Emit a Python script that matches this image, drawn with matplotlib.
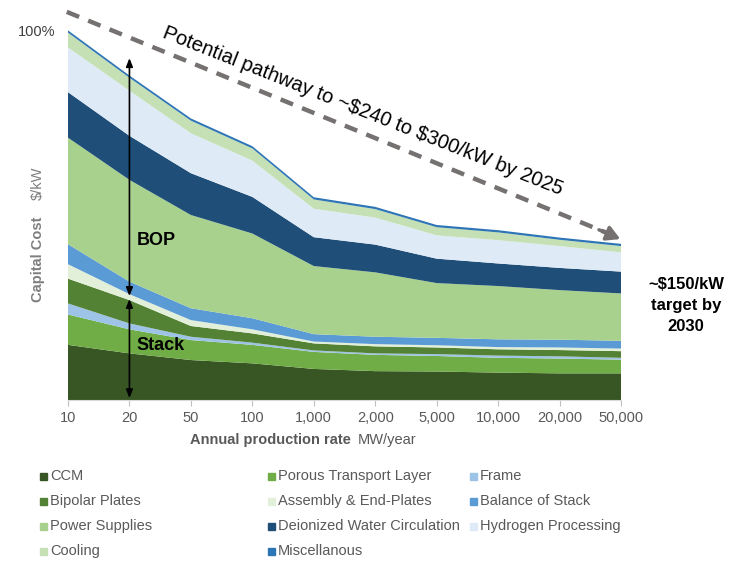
import matplotlib
matplotlib.use("Agg")
import matplotlib.pyplot as plt
from matplotlib.patches import Rectangle

plt.rcParams['font.family'] = ['Liberation Sans', 'DejaVu Sans']

# production rates (MW/year) shown as evenly spaced categories
rates = ["10", "20", "50", "100", "1,000", "2,000", "5,000", "10,000", "20,000", "50,000"]

# share of the 10 MW/year capital cost (%), one list per cost component
ccm = [14.9, 12.6, 10.8, 9.9, 8.4, 7.8, 7.7, 7.4, 7.2, 7.2]
ptl = [8.2, 6.5, 5.4, 5.0, 4.6, 4.4, 4.2, 4.0, 4.0, 3.7]
frame = [3.0, 1.6, 0.9, 0.6, 0.4, 0.4, 0.5, 0.6, 0.6, 0.5]
bipolar = [6.7, 6.3, 2.9, 2.5, 1.9, 1.9, 1.8, 1.7, 1.7, 1.8]
assembly = [3.9, 1.6, 1.6, 1.1, 0.5, 0.6, 0.6, 0.6, 0.7, 0.7]
bos = [5.4, 3.4, 3.2, 3.0, 2.0, 2.0, 2.0, 2.1, 2.1, 2.1]
power = [28.8, 27.5, 25.2, 22.9, 18.4, 17.4, 14.8, 14.4, 13.4, 12.8]
di_water = [12.3, 11.9, 11.3, 9.9, 7.8, 7.5, 6.6, 6.1, 6.0, 5.9]
hydrogen = [12.1, 12.2, 10.8, 9.8, 7.7, 7.3, 6.3, 6.3, 5.9, 5.2]
cooling = [4.0, 3.5, 3.4, 3.3, 2.5, 2.3, 2.2, 2.1, 1.7, 1.7]
misc = [0.6, 0.6, 0.6, 0.6, 0.6, 0.6, 0.6, 0.6, 0.6, 0.6]

labels = ["CCM", "Porous Transport Layer", "Frame", "Bipolar Plates",
          "Assembly & End-Plates", "Balance of Stack", "Power Supplies",
          "Deionized Water Circulation", "Hydrogen Processing", "Cooling",
          "Miscellanous"]
colors = ["#375623", "#70AD47", "#9DC3E6", "#548235", "#E2F0D9", "#5B9BD5",
          "#A9D18E", "#1F4E79", "#DEEBF7", "#C5E0B4", "#2E75B6"]
series = [ccm, ptl, frame, bipolar, assembly, bos, power, di_water,
          hydrogen, cooling, misc]

W, H = 742, 561
fig = plt.figure(figsize=(W / 100, H / 100), dpi=100)
ax = fig.add_axes([68 / W, (H - 400) / H, 553 / W, 370 / H])

x = list(range(len(rates)))
ax.stackplot(x, *series, colors=colors, linewidth=0)

ax.set_xlim(0, len(rates) - 1)
ax.set_ylim(0, 100)
ax.set_xticks(x)
ax.set_xticklabels(rates)
ax.set_yticks([100])
ax.set_yticklabels(["100%"])
ax.tick_params(axis='y', length=0, pad=9, labelsize=10.5, labelcolor='#404040')
ax.tick_params(axis='x', length=4, color='#BFBFBF', pad=4, labelsize=10.5,
               labelcolor='#595959')
for side in ['left', 'right', 'top']:
    ax.spines[side].set_visible(False)
ax.spines['bottom'].set_color('#D9D9D9')

# dashed pathway arrow
ax.plot([-0.02, 8.75], [104.9, 45.3], linestyle=(0, (3, 2.2)), lw=3.2,
        color='#767171', clip_on=False, solid_capstyle='butt')
ax.annotate('', xy=(9.03, 43.2), xytext=(8.6, 46.3),
            arrowprops=dict(arrowstyle='-|>,head_length=0.8,head_width=0.45',
                            color='#767171', lw=2.5),
            annotation_clip=False)
ax.text(4.8, 78.2, "Potential pathway to ~\\$240 to \\$300/kW by 2025",
        rotation=-21.6, rotation_mode='anchor', ha='center', va='center',
        fontsize=14.5, color='black')

# BOP / Stack brackets
ax.annotate('', xy=(1, 92.4), xytext=(1, 28.1),
            arrowprops=dict(arrowstyle='<|-|>,head_length=0.5,head_width=0.2',
                            color='black', lw=1.2, shrinkA=0, shrinkB=0))
ax.annotate('', xy=(1, 27.3), xytext=(1, 0.5),
            arrowprops=dict(arrowstyle='<|-|>,head_length=0.5,head_width=0.2',
                            color='black', lw=1.2, shrinkA=0, shrinkB=0))
ax.text(1.12, 43, "BOP", fontsize=13, fontweight='bold', va='center')
ax.text(1.12, 14.6, "Stack", fontsize=13, fontweight='bold', va='center')

# overlay in pixel coordinates for labels and legend
ov = fig.add_axes([0, 0, 1, 1], zorder=-1)
ov.set_xlim(0, W)
ov.set_ylim(H, 0)
ov.axis('off')

ov.text(686, 305, "~\\$150/kW\ntarget by\n2030", ha='center', va='center',
        fontsize=12, fontweight='bold', linespacing=1.5)

ov.text(38, 302, "Capital Cost", rotation=90, ha='center', va='bottom',
        fontsize=10.5, fontweight='bold', color='#7F7F7F')
ov.text(38, 200, "\\$/kW", rotation=90, ha='center', va='bottom',
        fontsize=10.5, color='#7F7F7F')
ov.text(351, 440, "Annual production rate", ha='right', va='center',
        fontsize=10.5, fontweight='bold', color='#595959')
ov.text(358, 440, "MW/year", ha='left', va='center', fontsize=10.5,
        color='#595959')

# legend laid out in rows of three like the original
col_x = [40, 268, 470]
row_y = [476, 501, 526, 551]
for i, (lab, col) in enumerate(zip(labels, colors)):
    cx = col_x[i % 3]
    cy = row_y[i // 3]
    ov.add_patch(Rectangle((cx, cy - 3.5), 7, 7, color=col))
    ov.text(cx + 10, cy, lab, ha='left', va='center', fontsize=10.5,
            color='#595959')

fig.savefig("out.png", dpi=100)
